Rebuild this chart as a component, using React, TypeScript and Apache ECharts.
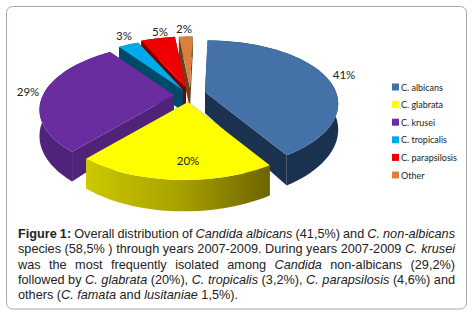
import React, { useEffect, useRef } from "react";
import * as echarts from "echarts";

const categories = ["C. albicans", "C. glabrata", "C. krusei", "C. tropicalis", "C. parapsilosis", "Other"];
const shares = [41, 20, 29, 3, 5, 2];
const topColors = ["#4471a8", "#ffff00", "#6a2da0", "#00a9e9", "#ee0000", "#d98040"];
const wallColors = ["#1b3150", "#a8a200", "#4f2379", "#004a68", "#7a0000", "#6e4020"];
const apexes = [[205, 92], [188, 102], [174, 95], [183, 90], [186, 88], [190, 88]];
const labelAt = [[344, 74], [188, 160], [28, 91], [124, 35], [160, 31], [184, 28]];
const drawOrder = [5, 4, 3, 0, 2, 1];

const RX = 131, RY = 62, Q = 0.0033, H = 25, SKEW = 0.05;

type Word = [string, ("b" | "i")?];
const w = (s: string, k?: "b" | "i"): Word[] => s.split(" ").map((x) => [x, k] as Word);
const captionLines: Word[][] = [
  [...w("Figure 1:", "b"), ...w("Overall distribution of"), ...w("Candida albicans", "i"), ...w("(41,5%) and"), ...w("C. non-albicans", "i")],
  [...w("species (58,5% ) through years 2007-2009. During years 2007-2009"), ...w("C. krusei", "i")],
  [...w("was the most frequently isolated among"), ...w("Candida", "i"), ...w("non-albicans (29,2%)")],
  [...w("followed by"), ...w("C. glabrata", "i"), ...w("(20%),"), ...w("C. tropicalis", "i"), ...w("(3,2%),"), ...w("C. parapsilosis", "i"), ...w("(4,6%) and")],
  [...w("others ("), ...w("C. famata", "i"), ...w("and"), ...w("lusitaniae", "i"), ...w("1,5%).")],
];
const captionY = [234, 249, 265, 280, 295];
const CAP_FONT = 12.7;

function captionGraphics() {
  const ctx = document.createElement("canvas").getContext("2d")!;
  const font = (k?: string) =>
    `${k === "b" ? "bold " : k === "i" ? "italic " : ""}${CAP_FONT}px "Liberation Sans"`;
  const out: any[] = [];
  const L = 18, R = 455;
  captionLines.forEach((line, i) => {
    const widths = line.map(([t, k]) => {
      ctx.font = font(k);
      return ctx.measureText(t).width;
    });
    ctx.font = font();
    const space = ctx.measureText(" ").width;
    const total = widths.reduce((a, b) => a + b, 0);
    const glued = line.filter(([t]) => t === "(").length;
    const gap = i < captionLines.length - 1 ? (R - L - total) / (line.length - 1 - glued) : space;
    let x = L;
    line.forEach(([t, k], j) => {
      out.push({
        type: "text",
        x,
        y: captionY[i],
        style: { text: t, font: font(k), fill: "#222", textVerticalAlign: "middle", textBaseline: "middle" },
      });
      x += widths[j] + (t === "(" ? 0 : gap);
    });
  });
  return out;
}

function project(apex: number[], deg: number, drop: number) {
  const t = (deg * Math.PI) / 180;
  const y0 = -Math.cos(t) * RY;
  const s = 1 / (1 - Q * y0);
  return [apex[0] + Math.sin(t) * RX * s - SKEW * y0 * s, apex[1] + y0 * s + drop * s];
}
function arc(apex: number[], a: number, b: number, drop: number) {
  const pts: number[][] = [];
  const n = Math.max(2, Math.ceil((b - a) / 3));
  for (let i = 0; i <= n; i++) pts.push(project(apex, a + ((b - a) * i) / n, drop));
  return pts;
}

export default function App() {
  const ref = useRef<HTMLDivElement>(null);
  useEffect(() => {
    document.body.style.margin = "0";
    const chart = echarts.init(ref.current!, undefined, { renderer: "svg" });
    const sum = shares.reduce((a, b) => a + b, 0);
    const starts: number[] = [];
    shares.reduce((acc, v, i) => {
      starts[i] = (acc / sum) * 360;
      return acc + v;
    }, 0);

    const series = drawOrder.map((idx) => ({
      type: "custom",
      name: categories[idx],
      coordinateSystem: "none",
      z: 2,
      itemStyle: { color: topColors[idx] },
      data: [[shares[idx]]],
      renderItem: (_: any, api: any) => {
        const v = api.value(0);
        const a = starts[idx];
        const b = a + (v / sum) * 360;
        const ap = apexes[idx];
        const apLow = [ap[0], ap[1] + H * 0.85];
        const top = arc(ap, a, b, 0);
        const low = arc(ap, a, b, H);
        const sideFill =
          idx === 1
            ? new echarts.graphic.LinearGradient(0, 0, 1, 0, [
                { offset: 0, color: "#cdc800" },
                { offset: 0.5, color: "#a8a200" },
                { offset: 1, color: "#6e6400" },
              ])
            : wallColors[idx];
        const wallFill = idx === 1 ? "#6e6400" : wallColors[idx];
        return {
          type: "group",
          children: [
            { type: "polygon", shape: { points: [ap, top[0], low[0], apLow] }, style: { fill: wallFill } },
            { type: "polygon", shape: { points: [ap, top[top.length - 1], low[low.length - 1], apLow] }, style: { fill: wallFill } },
            { type: "polygon", shape: { points: [...top, ...low.slice().reverse()] }, style: { fill: sideFill } },
            { type: "polygon", shape: { points: [ap, ...top] }, style: { fill: topColors[idx] } },
            {
              type: "text",
              x: labelAt[idx][0],
              y: labelAt[idx][1],
              z2: 50,
              style: {
                text: `${v}%`,
                font: "11.5px Lato",
                fill: "#222",
                textAlign: "center",
                textVerticalAlign: "middle",
              },
            },
          ],
        };
      },
    }));

    chart.setOption({
      animation: false,
      backgroundColor: "#fff",
      legend: {
        show: true,
        orient: "vertical",
        left: 392,
        top: 82.5,
        data: categories,
        itemWidth: 7,
        itemHeight: 7,
        itemGap: 8.6,
        icon: "rect",
        textStyle: { fontFamily: "Lato", fontSize: 9, color: "#222", padding: [0, 0, 0, -3] },
        padding: 0,
      },
      graphic: [
        {
          type: "rect",
          shape: { x: 6.5, y: 6.5, width: 460, height: 302.5, r: 6 },
          style: { fill: "none", stroke: "#a8a8b2", lineWidth: 1 },
          z: 0,
        },
        ...captionGraphics(),
      ],
      series,
    } as any);
    return () => chart.dispose();
  }, []);
  return <div ref={ref} style={{ position: "absolute", left: 0, top: 0, width: 473, height: 315 }} />;
}
